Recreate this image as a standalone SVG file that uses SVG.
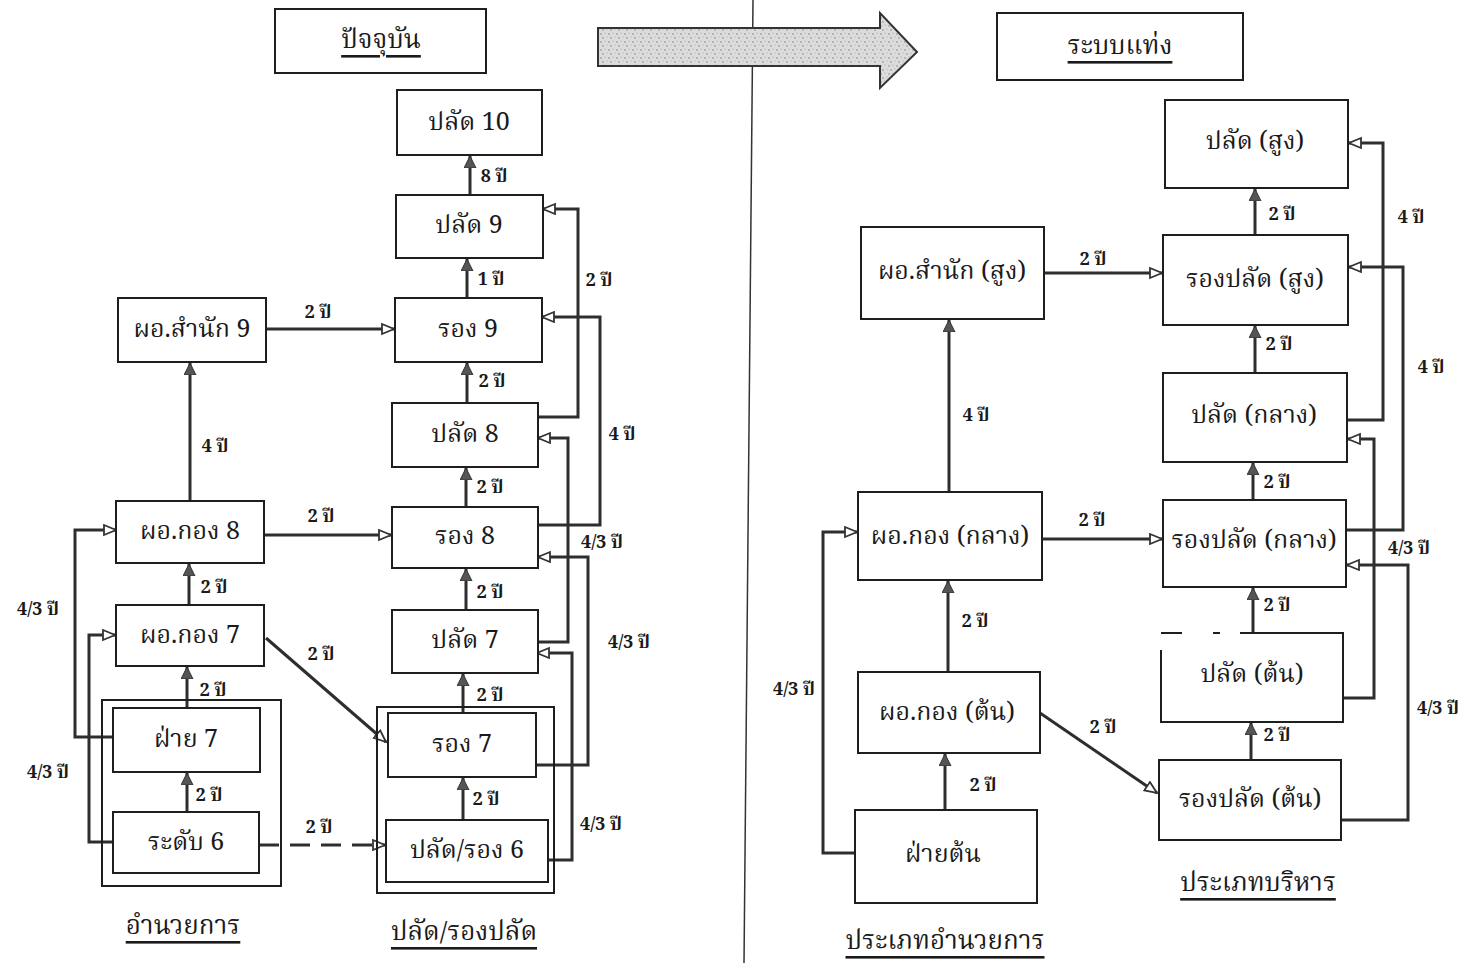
<svg xmlns="http://www.w3.org/2000/svg" width="1466" height="963" viewBox="0 0 1466 963">
<style>
.bx{fill:#fff;stroke:#1e1e1e;stroke-width:2}
.gb{fill:none;stroke:#1e1e1e;stroke-width:2}
.t{font-family:"Noto Serif Thai","Noto Sans Thai Looped","Noto Sans Thai","DejaVu Sans",sans-serif;font-size:25px;fill:#1a1a1a;text-anchor:middle;dominant-baseline:central}
.l{font-family:"Noto Serif Thai","Noto Sans Thai Looped","Noto Sans Thai","DejaVu Sans",sans-serif;font-size:18px;font-weight:bold;fill:#1a1a1a;text-anchor:middle;dominant-baseline:central}
.h{font-family:"Noto Serif Thai","Noto Sans Thai Looped","Noto Sans Thai","DejaVu Sans",sans-serif;font-size:26px;fill:#1a1a1a;text-anchor:middle;dominant-baseline:central;text-decoration:underline}
.c{fill:none;stroke:#2e2e2e;stroke-width:3}
.cv{fill:none;stroke:#2e2e2e;stroke-width:3;marker-end:url(#af)}
.ch{fill:none;stroke:#2e2e2e;stroke-width:3;marker-end:url(#ao)}
</style>
<defs>
<marker id="af" markerUnits="userSpaceOnUse" markerWidth="14" markerHeight="14" refX="12" refY="6" orient="auto">
<path d="M0,0 L12,6 L0,12 z" fill="#555" stroke="#333" stroke-width="1"/>
</marker>
<marker id="ao" markerUnits="userSpaceOnUse" markerWidth="16" markerHeight="14" refX="13" refY="6" orient="auto">
<path d="M1,1 L13,6 L1,11 z" fill="#fff" stroke="#333" stroke-width="1.8"/>
</marker>
<pattern id="stip" width="8" height="8" patternUnits="userSpaceOnUse">
<rect width="8" height="8" fill="#dcdcdc"/>
<circle cx="1" cy="2" r="0.8" fill="#888"/>
<circle cx="5" cy="1" r="0.6" fill="#999"/>
<circle cx="3" cy="6" r="0.7" fill="#777"/>
<circle cx="7" cy="5" r="0.6" fill="#aaa"/>
</pattern>
</defs>
<rect width="1466" height="963" fill="#fff"/>

<!-- divider and transition arrow -->
<g id="divider"><line x1="753" y1="0" x2="744" y2="963" stroke="#333" stroke-width="1.5"/></g>
<g id="big-arrow"><polygon points="598,28 880,28 880,13 917,52 880,88 880,66 598,66" fill="url(#stip)" stroke="#333" stroke-width="2"/></g>

<!-- titles -->
<g id="title-current"><rect class="bx" x="275" y="9" width="211" height="64"/><text class="h" x="381" y="41">ปัจจุบัน</text></g>
<g id="title-new"><rect class="bx" x="997" y="13" width="246" height="67"/><text class="h" x="1120" y="47">ระบบแท่ง</text></g>

<!-- connectors -->
<g id="connectors">
<line class="cv" x1="470" y1="195" x2="470" y2="156"/>
<line class="cv" x1="467" y1="298" x2="467" y2="259"/>
<line class="cv" x1="467" y1="403" x2="467" y2="363"/>
<line class="cv" x1="466" y1="507" x2="466" y2="468"/>
<line class="cv" x1="466" y1="610" x2="466" y2="569"/>
<line class="cv" x1="463" y1="713" x2="463" y2="674"/>
<line class="cv" x1="463" y1="820" x2="463" y2="778"/>
<line class="cv" x1="190" y1="501" x2="190" y2="363"/>
<line class="cv" x1="189" y1="605" x2="189" y2="564"/>
<line class="cv" x1="187" y1="708" x2="187" y2="667"/>
<line class="cv" x1="187" y1="812" x2="187" y2="773"/>
<line class="ch" x1="266" y1="329" x2="394" y2="329"/>
<line class="ch" x1="264" y1="535" x2="391" y2="535"/>
<line class="ch" x1="266" y1="638" x2="386" y2="742"/>
<line class="ch" x1="259" y1="845" x2="385" y2="845" stroke-dasharray="20 11"/>
<polyline class="ch" points="113,737 75,737 75,530 116,530"/>
<polyline class="ch" points="113,842 89,842 89,635 115,635"/>
<polyline class="ch" points="538,417 578,417 578,209 543,209"/>
<polyline class="ch" points="538,525 600,525 600,317 542,317"/>
<polyline class="ch" points="537,642 568,642 568,438 538,438"/>
<polyline class="ch" points="535,765 588,765 588,557 538,557"/>
<polyline class="ch" points="548,860 572,860 572,653 537,653"/>

<line class="cv" x1="1255" y1="235" x2="1255" y2="189"/>
<line class="cv" x1="1255" y1="373" x2="1255" y2="326"/>
<line class="cv" x1="1253" y1="500" x2="1253" y2="463"/>
<line class="cv" x1="1253" y1="633" x2="1253" y2="588"/>
<line class="cv" x1="1251" y1="760" x2="1251" y2="723"/>
<line class="cv" x1="949" y1="492" x2="949" y2="320"/>
<line class="cv" x1="948" y1="672" x2="948" y2="581"/>
<line class="cv" x1="945" y1="810" x2="945" y2="754"/>
<line class="ch" x1="1044" y1="273" x2="1162" y2="273"/>
<line class="ch" x1="1042" y1="539" x2="1162" y2="539"/>
<line class="ch" x1="1040" y1="713" x2="1157" y2="793"/>
<polyline class="ch" points="855,853 823,853 823,532 857,532"/>
<polyline class="ch" points="1347,420 1383,420 1383,143 1349,143"/>
<polyline class="ch" points="1346,530 1403,530 1403,267 1349,267"/>
<polyline class="ch" points="1343,698 1374,698 1374,439 1348,439"/>
<polyline class="ch" points="1341,820 1408,820 1408,565 1347,565"/>
</g>

<!-- connector labels -->
<g id="labels">
<text class="l" x="494" y="177">8 ปี</text>
<text class="l" x="491" y="280">1 ปี</text>
<text class="l" x="492" y="382">2 ปี</text>
<text class="l" x="490" y="488">2 ปี</text>
<text class="l" x="490" y="593">2 ปี</text>
<text class="l" x="490" y="696">2 ปี</text>
<text class="l" x="486" y="800">2 ปี</text>
<text class="l" x="215" y="447">4 ปี</text>
<text class="l" x="214" y="588">2 ปี</text>
<text class="l" x="213" y="691">2 ปี</text>
<text class="l" x="209" y="796">2 ปี</text>
<text class="l" x="318" y="313">2 ปี</text>
<text class="l" x="321" y="517">2 ปี</text>
<text class="l" x="321" y="655">2 ปี</text>
<text class="l" x="319" y="828">2 ปี</text>
<text class="l" x="599" y="281">2 ปี</text>
<text class="l" x="622" y="435">4 ปี</text>
<text class="l" x="602" y="543">4/3 ปี</text>
<text class="l" x="629" y="643">4/3 ปี</text>
<text class="l" x="601" y="825">4/3 ปี</text>
<text class="l" x="38" y="610">4/3 ปี</text>
<text class="l" x="48" y="773">4/3 ปี</text>

<text class="l" x="1282" y="215">2 ปี</text>
<text class="l" x="1093" y="260">2 ปี</text>
<text class="l" x="1411" y="218">4 ปี</text>
<text class="l" x="1431" y="368">4 ปี</text>
<text class="l" x="976" y="416">4 ปี</text>
<text class="l" x="1279" y="345">2 ปี</text>
<text class="l" x="1277" y="483">2 ปี</text>
<text class="l" x="1092" y="521">2 ปี</text>
<text class="l" x="1409" y="549">4/3 ปี</text>
<text class="l" x="1277" y="606">2 ปี</text>
<text class="l" x="975" y="622">2 ปี</text>
<text class="l" x="794" y="690">4/3 ปี</text>
<text class="l" x="1438" y="709">4/3 ปี</text>
<text class="l" x="1103" y="728">2 ปี</text>
<text class="l" x="1277" y="736">2 ปี</text>
<text class="l" x="983" y="786">2 ปี</text>
</g>

<g id="group-left-low"><rect class="gb" x="102" y="700" width="179" height="186"/></g>
<g id="group-right-low"><rect class="gb" x="377" y="707" width="177" height="186"/></g>

<g id="n-palat10"><rect class="bx" x="397" y="90" width="145" height="65"/><text class="t" x="469" y="123">ปลัด 10</text></g>
<g id="n-palat9"><rect class="bx" x="396" y="195" width="147" height="63"/><text class="t" x="469" y="226">ปลัด 9</text></g>
<g id="n-rong9"><rect class="bx" x="395" y="298" width="147" height="64"/><text class="t" x="468" y="330">รอง 9</text></g>
<g id="n-palat8"><rect class="bx" x="392" y="403" width="146" height="64"/><text class="t" x="465" y="435">ปลัด 8</text></g>
<g id="n-rong8"><rect class="bx" x="392" y="507" width="146" height="61"/><text class="t" x="465" y="537">รอง 8</text></g>
<g id="n-palat7"><rect class="bx" x="392" y="610" width="146" height="63"/><text class="t" x="465" y="641">ปลัด 7</text></g>
<g id="n-rong7"><rect class="bx" x="388" y="713" width="148" height="64"/><text class="t" x="462" y="745">รอง 7</text></g>
<g id="n-palatrong6"><rect class="bx" x="386" y="820" width="162" height="62"/><text class="t" x="467" y="851">ปลัด/รอง 6</text></g>

<g id="n-por-samnak9"><rect class="bx" x="118" y="298" width="148" height="64"/><text class="t" x="192" y="330">ผอ.สำนัก 9</text></g>
<g id="n-por-kong8"><rect class="bx" x="116" y="501" width="148" height="62"/><text class="t" x="190" y="532">ผอ.กอง 8</text></g>
<g id="n-por-kong7"><rect class="bx" x="116" y="605" width="148" height="61"/><text class="t" x="190" y="636">ผอ.กอง 7</text></g>
<g id="n-fai7"><rect class="bx" x="113" y="708" width="147" height="64"/><text class="t" x="186" y="740">ฝ่าย 7</text></g>
<g id="n-radap6"><rect class="bx" x="113" y="812" width="146" height="61"/><text class="t" x="186" y="843">ระดับ 6</text></g>

<g id="cap-left1"><text class="h" x="183" y="927">อำนวยการ</text></g>
<g id="cap-left2"><text class="h" x="464" y="933">ปลัด/รองปลัด</text></g>

<g id="n-palat-sung"><rect class="bx" x="1165" y="100" width="183" height="88"/><text class="t" x="1255" y="142">ปลัด (สูง)</text></g>
<g id="n-rongpalat-sung"><rect class="bx" x="1163" y="235" width="185" height="90"/><text class="t" x="1255" y="280">รองปลัด (สูง)</text></g>
<g id="n-por-samnak-sung"><rect class="bx" x="861" y="227" width="183" height="92"/><text class="t" x="952" y="272">ผอ.สำนัก (สูง)</text></g>
<g id="n-palat-klang"><rect class="bx" x="1163" y="373" width="184" height="89"/><text class="t" x="1254" y="416">ปลัด (กลาง)</text></g>
<g id="n-rongpalat-klang"><rect class="bx" x="1163" y="500" width="183" height="87"/><text class="t" x="1254" y="541">รองปลัด (กลาง)</text></g>
<g id="n-por-kong-klang"><rect class="bx" x="858" y="492" width="184" height="88"/><text class="t" x="950" y="537">ผอ.กอง (กลาง)</text></g>
<g id="n-palat-ton"><rect x="1161" y="633" width="182" height="89" fill="#fff" stroke="none"/><path d="M1161,650 L1161,722 L1343,722 L1343,633 L1240,633 M1161,633 L1182,633 M1213,633 L1220,633" fill="none" stroke="#1e1e1e" stroke-width="2"/><text class="t" x="1252" y="675">ปลัด (ต้น)</text></g>
<g id="n-por-kong-ton"><rect class="bx" x="858" y="672" width="182" height="81"/><text class="t" x="947" y="713">ผอ.กอง (ต้น)</text></g>
<g id="n-rongpalat-ton"><rect class="bx" x="1159" y="760" width="182" height="80"/><text class="t" x="1250" y="800">รองปลัด (ต้น)</text></g>
<g id="n-fai-ton"><rect class="bx" x="855" y="810" width="182" height="93"/><text class="t" x="943" y="855">ฝ่ายต้น</text></g>

<g id="cap-right1"><text class="h" x="1258" y="884">ประเภทบริหาร</text></g>
<g id="cap-right2"><text class="h" x="945" y="942">ประเภทอำนวยการ</text></g>
</svg>
